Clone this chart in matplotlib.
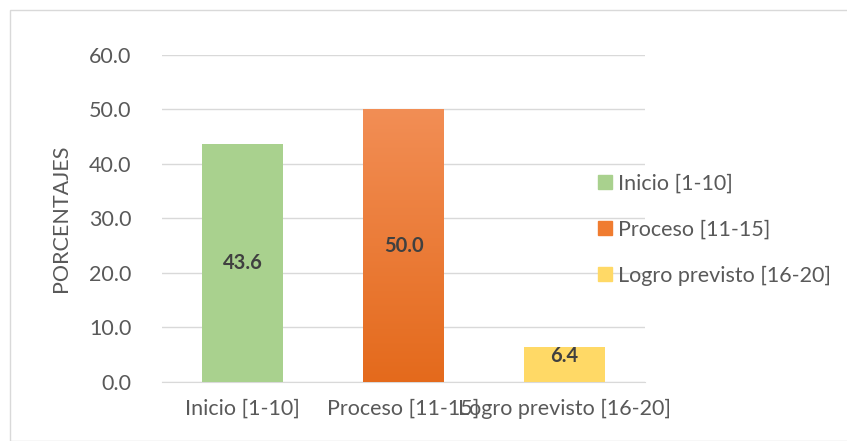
import matplotlib
matplotlib.use("Agg")
import matplotlib.pyplot as plt
import numpy as np
from matplotlib.colors import LinearSegmentedColormap
from matplotlib.patches import Rectangle

categories = ["Inicio [1-10]", "Proceso [11-15]", "Logro previsto [16-20]"]
values = [43.6, 50.0, 6.4]
colors = ["#A9D18E", "#F07C30", "#FFD966"]

plt.rcParams["font.family"] = ["Lato", "DejaVu Sans"]
FS = 15.5

fig = plt.figure(figsize=(8.47, 4.41), dpi=100)
ax = fig.add_axes([0.1913, 0.1338, 0.5703, 0.7415])

x = np.arange(len(categories))
bars = ax.bar(x, values, width=0.5, color=colors, zorder=3)

# orange bar gets a vertical gradient like the original
orange = bars[1]
cmap = LinearSegmentedColormap.from_list("og", ["#E46A1C", "#F28E55"])
grad = np.linspace(0, 1, 256).reshape(-1, 1)
bx, bw, bh = orange.get_x(), orange.get_width(), orange.get_height()
im = ax.imshow(grad, cmap=cmap, aspect="auto", origin="lower",
               extent=[bx, bx + bw, 0, bh], zorder=4)
im.set_clip_path(orange)

for b, v in zip(bars, values):
    ax.text(b.get_x() + b.get_width() / 2, v / 2 + (1.5 if v < 10 else 0),
            f"{v:.1f}", ha="center", va="center", fontsize=14.5,
            fontweight="bold", color="#404040", zorder=5)

ax.set_xlim(-0.5, 2.5)
ax.set_ylim(0, 60)
ax.set_yticks(np.arange(0, 61, 10))
ax.set_yticklabels([f"{t:.1f}" for t in np.arange(0, 61, 10)])
ax.set_xticks(x)
ax.set_xticklabels(categories)
ax.tick_params(axis="both", length=0, labelsize=FS, labelcolor="#595959")
ax.tick_params(axis="y", pad=22)
ax.tick_params(axis="x", pad=12)
ax.grid(axis="y", color="#D9D9D9", linewidth=1, zorder=0)
for s in ["top", "right", "left"]:
    ax.spines[s].set_visible(False)
ax.spines["bottom"].set_color("#D9D9D9")
ax.set_ylabel("PORCENTAJES", fontsize=FS, color="#595959", labelpad=13)

handles = [Rectangle((0, 0), 1, 1, color=c) for c in colors]
leg = fig.legend(handles, categories, loc="upper left",
                 bbox_to_anchor=(0.683, 0.65), frameon=False,
                 fontsize=FS, labelcolor="#595959", handlelength=0.65,
                 handleheight=0.65, handletextpad=0.3, labelspacing=1.2)

# outer chart border
fig.patches.append(Rectangle((10 / 847, 0), 1, 1 - 10 / 441, transform=fig.transFigure,
                             fill=False, edgecolor="#D9D9D9", linewidth=1))

fig.savefig("out.png", dpi=100)
